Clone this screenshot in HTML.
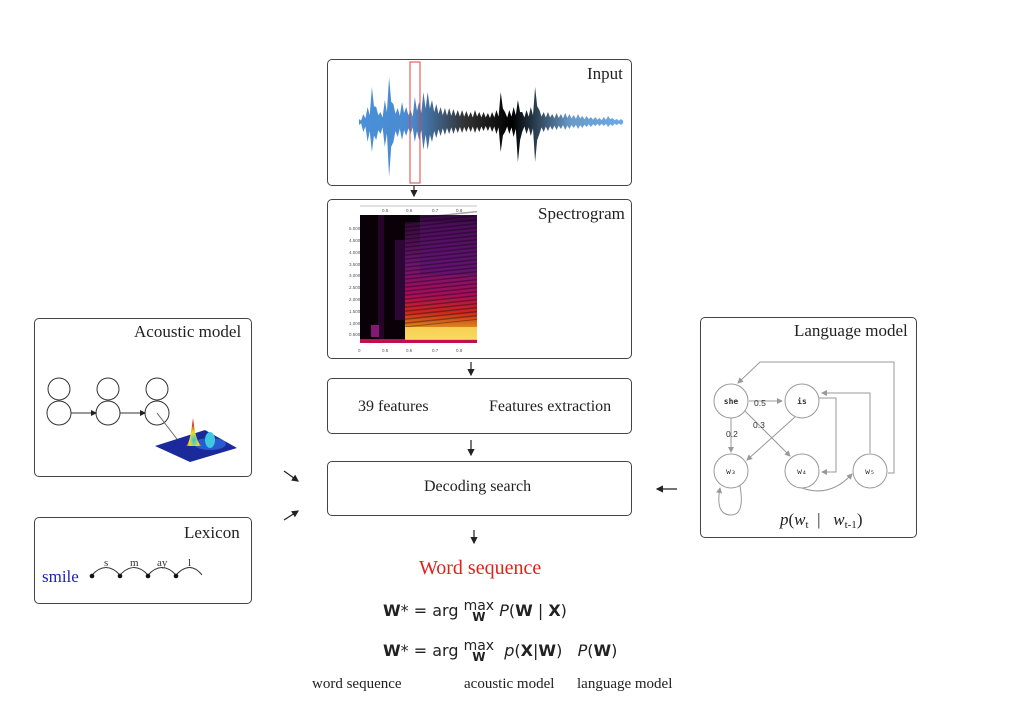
<!DOCTYPE html>
<html><head><meta charset="utf-8">
<style>
body{margin:0;background:#fff;width:1024px;height:712px;overflow:hidden;position:relative;font-family:"Liberation Serif",serif;color:#222}
.box{position:absolute;border:1.5px solid #444;border-radius:5px;box-sizing:border-box;background:#fff}
.t{position:absolute;white-space:nowrap}
.sans{font-family:"DejaVu Sans","Liberation Sans",sans-serif}
</style></head><body>
<div class="box" style="left:327px;top:59px;width:305px;height:127px"></div>
<div class="t" style="left:587px;top:64px;font-size:17px">Input</div>
<div class="box" style="left:327px;top:199px;width:305px;height:160px"></div>
<div class="t" style="left:538px;top:204px;font-size:17px">Spectrogram</div>
<div class="box" style="left:327px;top:378px;width:305px;height:56px"></div>
<div class="t" style="left:358px;top:398px;font-size:16px">39 features</div>
<div class="t" style="left:489px;top:398px;font-size:16px">Features extraction</div>
<div class="box" style="left:327px;top:461px;width:305px;height:55px"></div>
<div class="t" style="left:424px;top:478px;font-size:16px">Decoding search</div>
<div class="box" style="left:34px;top:318px;width:218px;height:159px"></div>
<div class="t" style="left:134px;top:322px;font-size:17px">Acoustic model</div>
<div class="box" style="left:34px;top:517px;width:218px;height:87px"></div>
<div class="t" style="left:184px;top:523px;font-size:17px">Lexicon</div>
<div class="box" style="left:700px;top:317px;width:217px;height:221px"></div>
<div class="t" style="left:794px;top:321px;font-size:17px">Language model</div>
<div class="t" style="left:419px;top:557px;font-size:20px;color:#e0201b">Word sequence</div>

<div class="t sans" style="left:383px;top:601px;font-size:16px"><b>W</b>* = arg <span style="display:inline-block;text-align:center;line-height:11px;vertical-align:-5px;font-size:14px">max<br><b style="font-size:12px">W</b></span> <i>P</i>(<b>W</b> | <b>X</b>)</div>
<div class="t sans" style="left:383px;top:641px;font-size:16px"><b>W</b>* = arg <span style="display:inline-block;text-align:center;line-height:11px;vertical-align:-5px;font-size:14px">max<br><b style="font-size:12px">W</b></span>&nbsp; <i>p</i>(<b>X</b>|<b>W</b>)&nbsp;&nbsp; <i>P</i>(<b>W</b>)</div>
<div class="t" style="left:312px;top:676px;font-size:15px">word sequence</div>
<div class="t" style="left:464px;top:676px;font-size:15px">acoustic model</div>
<div class="t" style="left:577px;top:676px;font-size:15px">language model</div>

<svg width="1024" height="712" style="position:absolute;left:0;top:0">
<defs>
<linearGradient id="wg" x1="0" x2="1" y1="0" y2="0">
<stop offset="0" stop-color="#4a90d9"/><stop offset="0.2" stop-color="#4a8ad0"/><stop offset="0.4" stop-color="#333"/><stop offset="0.58" stop-color="#000"/><stop offset="0.8" stop-color="#6a9ac8"/><stop offset="1" stop-color="#6aaae8"/></linearGradient>
<linearGradient id="sg" x1="0" x2="0" y1="0" y2="1">
<stop offset="0" stop-color="#3a0a40"/><stop offset="0.35" stop-color="#7a1a80"/><stop offset="0.6" stop-color="#c0106a"/><stop offset="0.75" stop-color="#f03020"/><stop offset="0.87" stop-color="#ffa020"/><stop offset="1" stop-color="#ffff80"/></linearGradient>
<pattern id="streak" width="6" height="4" patternUnits="userSpaceOnUse"><rect width="6" height="1.5" fill="#000" opacity="0.35"/></pattern>
<radialGradient id="pk" cx="0.5" cy="0.8" r="0.6"><stop offset="0" stop-color="#30c0e0"/><stop offset="0.5" stop-color="#f0e020"/><stop offset="1" stop-color="#d02010"/></radialGradient>
<marker id="ah" markerWidth="6" markerHeight="6" refX="5" refY="3" orient="auto"><path d="M0,0L6,3L0,6z" fill="#222"/></marker>
<marker id="ag" markerWidth="6" markerHeight="6" refX="5" refY="3" orient="auto"><path d="M0,0L6,3L0,6z" fill="#999"/></marker>
</defs>
<g id="wave"></g>
<rect x="410" y="62" width="10" height="121" fill="none" stroke="#e04040" stroke-width="1"/>
<g>
<line x1="360" y1="206" x2="477" y2="206" stroke="#888" stroke-width="0.6"/>
<rect x="360" y="215" width="117" height="128" fill="#0a0008"/>
<rect x="405" y="222" width="72" height="121" fill="url(#sg)" opacity="0.85"/>
<rect x="420" y="215" width="57" height="60" fill="#5a1070" opacity="0.6"/>
<rect x="378" y="215" width="6" height="128" fill="#2a0530" opacity="0.8"/>
<rect x="395" y="240" width="10" height="80" fill="#3a0a48" opacity="0.7"/>
<rect x="405" y="215" width="72" height="110" fill="url(#streak)" transform="skewY(-6) translate(0,45)"/>
<rect x="371" y="325" width="8" height="12" fill="#a02090" opacity="0.8"/>
<rect x="360" y="339" width="117" height="4" fill="#c01050"/>
<rect x="405" y="327" width="72" height="13" fill="#ffe060" opacity="0.8"/>
<g font-size="4.5" fill="#555" font-family="Liberation Sans,sans-serif">
<text x="349" y="230">5.000</text><text x="349" y="242">4.500</text><text x="349" y="254">4.000</text><text x="349" y="266">3.500</text><text x="349" y="277">3.000</text><text x="349" y="289">2.500</text><text x="349" y="301">2.000</text><text x="349" y="313">1.500</text><text x="349" y="325">1.000</text><text x="349" y="336">0.500</text>
<text x="358" y="352">0</text><text x="382" y="352">0.5</text><text x="406" y="352">0.6</text><text x="432" y="352">0.7</text><text x="456" y="352">0.8</text>
<text x="382" y="212">0.5</text><text x="406" y="212">0.6</text><text x="432" y="212">0.7</text><text x="456" y="212">0.8</text></g>
</g>
<g stroke="#222" stroke-width="1.2" fill="none">
<line x1="414" y1="186" x2="414" y2="196" marker-end="url(#ah)"/>
<line x1="471" y1="362" x2="471" y2="375" marker-end="url(#ah)"/>
<line x1="471" y1="440" x2="471" y2="455" marker-end="url(#ah)"/>
<line x1="474" y1="530" x2="474" y2="543" marker-end="url(#ah)"/>
<line x1="284" y1="471" x2="298" y2="481" marker-end="url(#ah)"/>
<line x1="284" y1="520" x2="298" y2="511" marker-end="url(#ah)"/>
<line x1="677" y1="489" x2="657" y2="489" marker-end="url(#ah)"/>
</g>
<g stroke="#333" stroke-width="1" fill="none">
<circle cx="59" cy="413" r="12"/><circle cx="59" cy="389" r="11"/>
<circle cx="108" cy="413" r="12"/><circle cx="108" cy="389" r="11"/>
<circle cx="157" cy="413" r="12"/><circle cx="157" cy="389" r="11"/>
<line x1="71" y1="413" x2="96" y2="413" marker-end="url(#ah)"/>
<line x1="120" y1="413" x2="145" y2="413" marker-end="url(#ah)"/>
<line x1="157" y1="413" x2="180" y2="443" stroke="#666"/>
</g>
<g>
<polygon points="155,446 205,430 237,448 190,462" fill="#1a2a9a"/>
<ellipse cx="210" cy="444" rx="16" ry="6" fill="#2a5ad0"/>
<path d="M186,446 Q190,444 193,418 Q196,444 202,446z" fill="url(#pk)"/>
<ellipse cx="210" cy="440" rx="5" ry="8" fill="#40c8e0"/>
</g>
<g>
<text x="42" y="582" font-size="17" fill="#2020c0" font-family="Liberation Serif,serif">smile</text>
<g stroke="#333" fill="none" stroke-width="1"><path d="M92,575 Q106,560 120,575"/><path d="M120,575 Q134,560 148,575"/><path d="M148,575 Q162,560 176,575"/><path d="M176,575 Q190,560 202,575"/></g>
<g fill="#111"><circle cx="92" cy="576" r="2.3"/><circle cx="120" cy="576" r="2.3"/><circle cx="148" cy="576" r="2.3"/><circle cx="176" cy="576" r="2.3"/></g>
<g font-size="11" font-family="Liberation Serif,serif" fill="#333"><text x="104" y="566">s</text><text x="130" y="566">m</text><text x="157" y="566">ay</text><text x="188" y="566">l</text></g>
</g>
<g stroke="#999" fill="none" stroke-width="1">
<circle cx="731" cy="401" r="17"/><circle cx="802" cy="401" r="17"/>
<circle cx="731" cy="471" r="17"/><circle cx="802" cy="471" r="17"/><circle cx="870" cy="471" r="17"/>
<line x1="749" y1="401" x2="782" y2="401" marker-end="url(#ag)"/>
<line x1="731" y1="418" x2="731" y2="452" marker-end="url(#ag)"/>
<line x1="745" y1="411" x2="790" y2="456" marker-end="url(#ag)"/>
<line x1="795" y1="417" x2="747" y2="460" marker-end="url(#ag)"/>
<path d="M819,398 H836 V472 H822" marker-end="url(#ag)"/>
<path d="M870,453 V393 H822" marker-end="url(#ag)"/>
<path d="M888,473 H894 V362 H760 L738,383" marker-end="url(#ag)"/>
<path d="M802,488 Q830,498 852,474" marker-end="url(#ag)"/>
<path d="M740,486 Q745,515 731,515 Q715,515 720,488" marker-end="url(#ag)"/>
</g>
<g font-family="DejaVu Sans Mono,Liberation Mono,monospace" font-size="8" fill="#333" text-anchor="middle">
<text x="731" y="404" font-weight="bold">she</text><text x="802" y="404" font-weight="bold">is</text>
<text x="731" y="474">w₃</text><text x="802" y="474">w₄</text><text x="870" y="474">w₅</text></g>
<g font-family="Liberation Sans,sans-serif" font-size="8.5" fill="#333">
<text x="754" y="406">0.5</text><text x="753" y="428">0.3</text><text x="726" y="437">0.2</text></g>
<text x="780" y="525" font-size="17" font-family="Liberation Serif,serif" fill="#222"><tspan font-style="italic">p</tspan>(<tspan font-style="italic">w</tspan><tspan font-size="11" dy="3">t</tspan><tspan dy="-3">&#160;&#160;|&#160;&#160; </tspan><tspan font-style="italic">w</tspan><tspan font-size="11" dy="3">t-1</tspan><tspan dy="-3">)</tspan></text>
</svg>
<script>
// waveform envelope amplitudes (upper, lower) sampled left to right
const waveAmpUp=[3,8,15,35,15,10,22,45,18,14,20,15,12,25,20,30,30,22,18,15,14,14,13,12,12,11,10,12,10,10,9,10,12,30,10,12,15,22,10,12,15,35,12,10,10,8,9,8,9,8,7,8,6,6,5,5,4,5,6,4,3,3];
const waveAmpDn=[3,10,20,30,18,12,25,55,20,15,18,14,12,20,18,28,28,20,16,14,13,12,12,11,11,10,10,11,10,9,9,10,12,30,10,12,15,40,10,12,14,40,12,10,9,8,8,7,8,7,6,7,6,5,5,4,4,4,5,4,3,3];
const wg=document.getElementById('wave');
const x0=359,x1=621,cy=122,n=waveAmpUp.length;
const step=(x1-x0)/(n-1);
let d='M'+x0+','+cy;
for(let i=0;i<n;i++){d+='L'+(x0+i*step).toFixed(1)+','+(cy-waveAmpUp[i]);d+='L'+(x0+i*step+step/2).toFixed(1)+','+(cy-waveAmpUp[i]*0.45);}
for(let i=n-1;i>=0;i--){d+='L'+(x0+i*step+step/2).toFixed(1)+','+(cy+waveAmpDn[i]*0.45);d+='L'+(x0+i*step).toFixed(1)+','+(cy+waveAmpDn[i]);}
d+='Z';
const p=document.createElementNS('http://www.w3.org/2000/svg','path');
p.setAttribute('d',d);p.setAttribute('fill','url(#wg)');


wg.appendChild(p);
</script>
</body></html>
